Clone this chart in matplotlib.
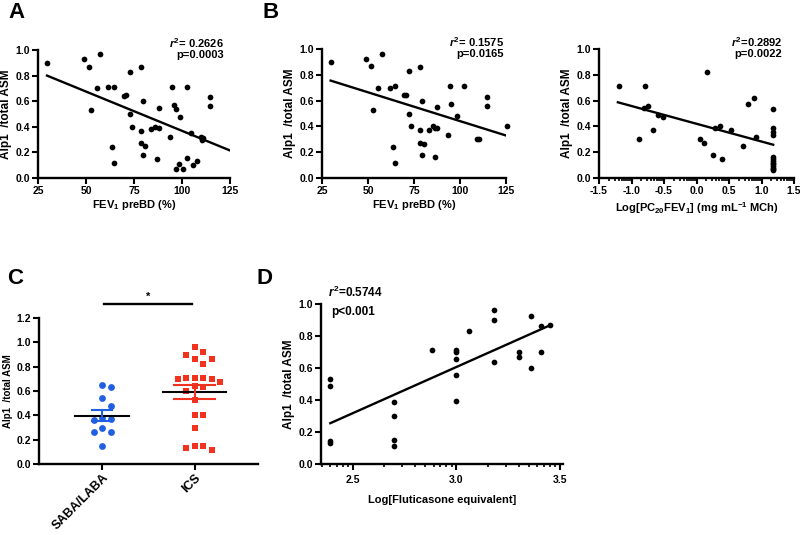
import numpy as np
import matplotlib
matplotlib.use("Agg")
import matplotlib.pyplot as plt

plt.rcParams['font.family'] = ['Liberation Sans', 'DejaVu Sans']
plt.rcParams['font.weight'] = 'bold'
plt.rcParams['mathtext.fontset'] = 'custom'
plt.rcParams['mathtext.rm'] = 'Liberation Sans:bold'
plt.rcParams['mathtext.it'] = 'Liberation Sans:italic:bold'
plt.rcParams['mathtext.bf'] = 'Liberation Sans:bold'

# ---------------- data ----------------
# Panel A
a_fev = [29.7, 48.7, 51.6, 57.5, 52.7, 55.6, 61.7, 64.7, 63.8, 64.8, 69.7, 70.7, 72.8, 72.8,
         73.9, 78.7, 79.8, 78.8, 78.8, 80.9, 79.8, 83.7, 85.8, 87.9, 87.8, 86.8, 94.6, 95.7,
         96.7, 98.8, 93.8, 102.8, 104.7, 109.9, 110.8, 110.3, 114.6, 114.6, 96.7, 100.7,
         98.6, 102.8, 105.6, 107.6]
a_ratio = [0.90, 0.93, 0.87, 0.97, 0.53, 0.70, 0.71, 0.71, 0.24, 0.12, 0.64, 0.65, 0.83, 0.50,
           0.40, 0.87, 0.60, 0.37, 0.27, 0.25, 0.18, 0.38, 0.40, 0.39, 0.545, 0.15, 0.71, 0.57,
           0.54, 0.48, 0.32, 0.71, 0.35, 0.32, 0.31, 0.30, 0.63, 0.56, 0.07, 0.07,
           0.11, 0.16, 0.10, 0.13]
a_fit_x = [29.7, 125.0]
a_fit_y = [0.80, 0.215]
a_r2, a_p = "0.2626", "0.0003"

# Panel B
b_fev = [29.7, 48.7, 51.6, 57.7, 52.8, 55.6, 61.7, 64.6, 63.5, 64.6, 69.7, 70.8, 72.4, 72.4,
         73.5, 78.3, 79.4, 78.3, 78.3, 80.2, 79.4, 83.4, 85.2, 86.5, 87.4, 87.4, 86.3, 93.4,
         94.3, 95.3, 98.4, 102.2, 114.5, 114.5, 109.4, 110.2, 125.8]
b_ratio = [0.90, 0.92, 0.87, 0.96, 0.53, 0.70, 0.70, 0.71, 0.24, 0.12, 0.64, 0.64, 0.83, 0.50,
           0.40, 0.86, 0.60, 0.37, 0.27, 0.26, 0.18, 0.37, 0.40, 0.39, 0.39, 0.55, 0.16, 0.33,
           0.71, 0.57, 0.48, 0.71, 0.63, 0.56, 0.30, 0.30, 0.40]
b_fit_x = [29.7, 126.0]
b_fit_y = [0.755, 0.325]
b_r2, b_p = "0.1575", "0.0165"

# Panel B (right): PC20
c_pc20 = [-1.20, -0.79, -0.88, -0.81, -0.75, -0.67, -0.59, -0.52, 0.16, 0.05, 0.11, 0.29,
          0.36, 0.25, 0.39, 0.53, 0.79, 0.88, 0.71, 0.92,
          1.18, 1.18, 1.18, 1.18, 1.18, 1.18, 1.18, 1.18, 1.18, 1.18, 1.18, 1.18, 1.18]
c_ratio = [0.71, 0.71, 0.30, 0.54, 0.56, 0.37, 0.49, 0.475, 0.82, 0.30, 0.27, 0.39,
           0.40, 0.18, 0.15, 0.37, 0.57, 0.62, 0.25, 0.32,
           0.535, 0.39, 0.36, 0.335, 0.16, 0.145, 0.13, 0.12, 0.105, 0.09, 0.08, 0.07, 0.06]
c_fit_x = [-1.21, 1.18]
c_fit_y = [0.587, 0.258]
c_r2, c_p = "0.2892", "0.0022"

# Panel C
groups = ["SABA/LABA", "ICS"]
saba_vals = [0.65, 0.63, 0.54, 0.48, 0.38, 0.37, 0.36, 0.30, 0.26, 0.26, 0.15]
ics_vals = [0.96, 0.92, 0.90, 0.86, 0.86, 0.82, 0.71, 0.70, 0.71, 0.70, 0.71, 0.64, 0.63,
            0.67, 0.60, 0.53, 0.40, 0.40, 0.30, 0.15, 0.115, 0.13, 0.15]

# Panel D
d_flut = [2.39, 2.39, 2.39, 2.39, 2.70, 2.70, 2.70, 2.70, 2.88, 3.0, 3.0, 3.0, 3.0, 3.0,
          3.06, 3.18, 3.18, 3.18, 3.30, 3.30, 3.36, 3.36, 3.41, 3.41, 3.45]
d_ratio = [0.53, 0.49, 0.145, 0.13, 0.39, 0.30, 0.15, 0.115, 0.71, 0.715, 0.70, 0.655, 0.557,
           0.395, 0.83, 0.965, 0.90, 0.64, 0.70, 0.67, 0.925, 0.60, 0.865, 0.70, 0.87]
d_fit_x = [2.39, 3.44]
d_fit_y = [0.255, 0.86]
d_r2, d_p = "0.5744", "<0.001"

# ---------------- figure ----------------
W, H = 800, 535
fig = plt.figure(figsize=(8, 5.35), dpi=100)


def px_axes(x0, y0, x1, y1):
    return fig.add_axes([x0 / W, 1 - y1 / H, (x1 - x0) / W, (y1 - y0) / H])


def style(ax):
    for s in ['top', 'right']:
        ax.spines[s].set_visible(False)
    for s in ['left', 'bottom']:
        ax.spines[s].set_linewidth(1.7)
    ax.tick_params(axis='both', which='major', length=4, width=1.5, labelsize=7.5, pad=1.5)
    ax.tick_params(axis='both', which='minor', length=2.5, width=1.2)
    for lab in ax.get_xticklabels() + ax.get_yticklabels():
        lab.set_fontweight('bold')


def log_minor(lo, hi, step=0.5):
    out = []
    a = np.floor(lo / step) * step - step
    while a < hi:
        for k in range(2, 10):
            v = a + step * np.log10(k)
            if lo < v < hi:
                out.append(v)
        a += step
    return out


ylab = "Alp1  /total ASM"
dot = dict(s=17, color='black', zorder=3, clip_on=False, linewidths=0)
yt = np.arange(0, 1.01, 0.2)
ytl = [f"{v:.1f}" for v in yt]

# Panel A
axA = px_axes(38, 50, 230, 178)
axA.scatter(a_fev, a_ratio, **dot)
axA.plot(a_fit_x, a_fit_y, color='black', lw=1.7)
axA.set_xlim(25, 125)
axA.set_ylim(0, 1.0)
axA.set_xticks([25, 50, 75, 100, 125])
axA.set_yticks(yt)
axA.set_yticklabels(ytl)
axA.set_xlabel("FEV$_{1}$ preBD (%)", fontsize=8, fontweight='bold', labelpad=2)
axA.set_ylabel(ylab, fontsize=8.5, fontweight='bold', labelpad=3)
style(axA)
axA.text(0.97, 1.05, "$r^{2}$= " + a_r2, transform=axA.transAxes, ha='right', va='center', fontsize=8)
axA.text(0.97, 0.96, "p=" + a_p, transform=axA.transAxes, ha='right', va='center', fontsize=8)

# Panel B left
axB = px_axes(322, 49, 506, 178)
axB.scatter(b_fev, b_ratio, **dot)
axB.plot(b_fit_x, b_fit_y, color='black', lw=1.7)
axB.set_xlim(25, 125)
axB.set_ylim(0, 1.0)
axB.set_xticks([25, 50, 75, 100, 125])
axB.set_yticks(yt)
axB.set_yticklabels(ytl)
axB.set_xlabel("FEV$_{1}$ preBD (%)", fontsize=8, fontweight='bold', labelpad=2)
axB.set_ylabel(ylab, fontsize=8.5, fontweight='bold', labelpad=3)
style(axB)
axB.text(0.99, 1.05, "$r^{2}$= " + b_r2, transform=axB.transAxes, ha='right', va='center', fontsize=8)
axB.text(0.99, 0.96, "p=" + b_p, transform=axB.transAxes, ha='right', va='center', fontsize=8)

# Panel B right
axR = px_axes(599, 49, 794, 178)
axR.scatter(c_pc20, c_ratio, **dot)
axR.plot(c_fit_x, c_fit_y, color='black', lw=1.7)
axR.set_xlim(-1.5, 1.5)
axR.set_ylim(0, 1.0)
axR.set_xticks([-1.5, -1.0, -0.5, 0.0, 0.5, 1.0, 1.5])
axR.set_xticklabels(["-1.5", "-1.0", "-0.5", "0.0", "0.5", "1.0", "1.5"])
axR.set_xticks(log_minor(-1.5, 1.5), minor=True)
axR.set_yticks(yt)
axR.set_yticklabels(ytl)
axR.set_xlabel("Log[PC$_{20}$FEV$_{1}$] (mg mL$^{-1}$ MCh)", fontsize=8, fontweight='bold', labelpad=3)
axR.set_ylabel(ylab, fontsize=8.5, fontweight='bold', labelpad=3)
style(axR)
axR.text(0.94, 1.05, "$r^{2}$=" + c_r2, transform=axR.transAxes, ha='right', va='center', fontsize=8)
axR.text(0.94, 0.96, "p=" + c_p, transform=axR.transAxes, ha='right', va='center', fontsize=8)

# Panel C
axC = px_axes(39, 318, 258, 464)
axC.set_xlim(-0.68, 1.68)
axC.set_ylim(0, 1.2)


def swarm(vals, center, ax, step_px=8.5, min_px=7.5):
    # simple beeswarm offsets computed in pixel space
    fig.canvas.draw()
    t = ax.transData
    placed = []
    xs = np.zeros(len(vals))
    order = np.argsort(vals)[::-1]
    for i in order:
        xc, yp = t.transform((center, vals[i]))
        for k in range(0, 40):
            cands = [0] if k == 0 else [k * step_px, -k * step_px]
            ok = None
            for dx in cands:
                if all((xc + dx - px) ** 2 + (yp - py) ** 2 >= min_px ** 2 for px, py in placed):
                    ok = dx
                    break
            if ok is not None:
                placed.append((xc + ok, yp))
                xs[i] = t.inverted().transform((xc + ok, yp))[0]
                break
    return xs


blue = '#1f5fe0'
red = '#f0321e'
for gi, (vals, col, mk, mhalf, chalf) in enumerate([(saba_vals, blue, 'o', 0.29, 0.11),
                                                     (ics_vals, red, 's', 0.34, 0.22)]):
    xs = swarm(vals, gi, axC)
    axC.scatter(xs, vals, s=24, marker=mk, color=col, linewidths=0, zorder=3, clip_on=False)
    m = np.mean(vals)
    sem = np.std(vals, ddof=1) / np.sqrt(len(vals))
    axC.plot([gi - mhalf, gi + mhalf], [m, m], color='black', lw=1.5, zorder=4)
    axC.plot([gi, gi], [m - sem, m + sem], color=col, lw=1.5, zorder=4)
    axC.plot([gi - chalf, gi + chalf], [m + sem, m + sem], color=col, lw=1.5, zorder=4)
    axC.plot([gi - chalf, gi + chalf], [m - sem, m - sem], color=col, lw=1.5, zorder=4)

axC.plot([0.02, 0.97], [1.315, 1.315], color='black', lw=1.7, clip_on=False)
axC.text(0.5, 1.33, "*", ha='center', va='bottom', fontsize=8)
axC.set_xticks([0, 1])
axC.set_xticklabels(groups)
yc = np.arange(0, 1.21, 0.2)
axC.set_yticks(yc)
axC.set_yticklabels([f"{v:.1f}" for v in yc])
axC.set_ylabel(ylab, fontsize=7, fontweight='bold', labelpad=3)
style(axC)
axC.tick_params(axis='x', labelsize=9)
for lab in axC.get_xticklabels():
    lab.set_rotation(45)
    lab.set_ha('right')
    lab.set_rotation_mode('anchor')

# Panel D
axD = px_axes(321, 304, 563, 464)
axD.scatter(d_flut, d_ratio, **dot)
axD.plot(d_fit_x, d_fit_y, color='black', lw=1.7)
axD.set_xlim(2.345, 3.515)
axD.set_ylim(0, 1.0)
axD.set_xticks([2.5, 3.0, 3.5])
axD.set_xticklabels(["2.5", "3.0", "3.5"])
axD.set_xticks(log_minor(2.345, 3.515), minor=True)
axD.set_yticks(yt)
axD.set_yticklabels(ytl)
axD.set_xlabel("Log[Fluticasone equivalent]", fontsize=8, fontweight='bold', labelpad=7)
axD.set_ylabel(ylab, fontsize=8.5, fontweight='bold', labelpad=3)
style(axD)
axD.tick_params(axis='x', which='major', pad=4)
axD.text(0.03, 1.07, "$r^{2}$=" + d_r2, transform=axD.transAxes, ha='left', va='center', fontsize=8.5)
axD.text(0.04, 0.95, "p" + d_p, transform=axD.transAxes, ha='left', va='center', fontsize=8.5)

# panel letters
for letter, x, y in [("A", 8, 13), ("B", 263, 12), ("C", 7, 278), ("D", 256, 278)]:
    fig.text(x / W, 1 - y / H, letter, fontsize=16, fontweight='bold', ha='left', va='center')

fig.savefig("out.png", dpi=100)
